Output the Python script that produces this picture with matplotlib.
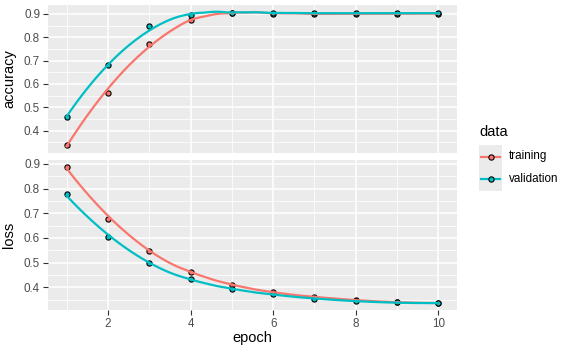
import numpy as np
import matplotlib
matplotlib.use("Agg")
import matplotlib.pyplot as plt
from matplotlib.lines import Line2D
from matplotlib.patches import Rectangle

plt.rcParams['font.family'] = ['Liberation Sans', 'DejaVu Sans']

epoch = np.arange(1, 11)
acc_train = [0.34, 0.562, 0.771, 0.875, 0.903, 0.900, 0.900, 0.901, 0.901, 0.901]
acc_val = [0.459, 0.681, 0.847, 0.896, 0.905, 0.903, 0.903, 0.903, 0.903, 0.903]
loss_train = [0.888, 0.678, 0.546, 0.464, 0.411, 0.381, 0.362, 0.349, 0.341, 0.336]
loss_val = [0.776, 0.604, 0.497, 0.433, 0.394, 0.373, 0.354, 0.345, 0.339, 0.336]

RED = '#F8766D'
CYAN = '#00BFC4'
BG = '#EBEBEB'


# loess (span 0.75, degree 2) like geom_smooth
def loess(x, y, xs, span=0.75):
    x = np.asarray(x, float)
    y = np.asarray(y, float)
    q = int(np.floor(len(x) * span))
    out = []
    for x0 in xs:
        d = np.abs(x - x0)
        h = np.sort(d)[q - 1]
        w = np.clip(1 - (d / h) ** 3, 0, None) ** 3
        A = np.vstack([np.ones_like(x), x - x0, (x - x0) ** 2]).T
        W = np.diag(w)
        beta = np.linalg.solve(A.T @ W @ A, A.T @ W @ y)
        out.append(beta[0])
    return np.array(out)


W, H = 567, 352
fig = plt.figure(figsize=(W / 100, H / 100), dpi=100)


def px_axes(l, t, r, b):
    return fig.add_axes([l / W, 1 - b / H, (r - l) / W, (b - t) / H])


ax1 = px_axes(48, 5, 457, 153)
ax2 = px_axes(48, 160, 457, 310)

xs = np.linspace(1, 10, 80)
panels = [(ax1, acc_train, acc_val, 'accuracy'), (ax2, loss_train, loss_val, 'loss')]
for ax, tr, va, name in panels:
    ax.set_facecolor(BG)
    for s in ax.spines.values():
        s.set_visible(False)
    sm_tr = loess(epoch, tr, xs)
    sm_va = loess(epoch, va, xs)
    for ys, sm, col in [(tr, sm_tr, RED), (va, sm_va, CYAN)]:
        ax.scatter(epoch, ys, s=14, facecolor=col, edgecolor='black', linewidth=0.8, zorder=3)
    ax.plot(xs, sm_tr, color=RED, lw=1.6, zorder=4)
    ax.plot(xs, sm_va, color=CYAN, lw=1.6, zorder=4)
    allv = np.concatenate([tr, va, sm_tr, sm_va])
    lo, hi = allv.min(), allv.max()
    pad = 0.05 * (hi - lo)
    ax.set_ylim(lo - pad, hi + pad)
    ax.set_xlim(0.55, 10.45)
    ax.set_yticks([0.4, 0.5, 0.6, 0.7, 0.8, 0.9])
    ax.set_yticks(np.arange(0.35, 0.95, 0.1), minor=True)
    ax.set_xticks([2, 4, 6, 8, 10])
    ax.set_xticks([1, 3, 5, 7, 9], minor=True)
    ax.grid(which='major', color='white', lw=1.1)
    ax.grid(which='minor', color='white', lw=0.55)
    ax.set_axisbelow(True)
    ax.tick_params(which='major', length=3.7, width=0.8, color='#333333',
                   labelsize=8.4, labelcolor='#4D4D4D', pad=2)
    ax.tick_params(which='minor', length=0)
    ax.set_ylabel(name, fontsize=10.5, labelpad=4)
    ax.yaxis.set_label_coords(-0.078, 0.5)

ax1.tick_params(axis='x', which='major', length=0, labelbottom=False)
ax2.set_xlabel('epoch', fontsize=10.5, labelpad=1)

# legend
fig.text(479 / W, 1 - 132 / H, 'data', fontsize=10.5, va='center', ha='left')
for i, (lab, col) in enumerate([('training', RED), ('validation', CYAN)]):
    cy = 156.5 + 23 * i
    fig.patches.append(Rectangle((479 / W, 1 - (cy + 11.5) / H), 23 / W, 23 / H,
                                 transform=fig.transFigure, facecolor=BG, edgecolor='none'))
    fig.lines.append(Line2D([481 / W, 500 / W], [1 - cy / H] * 2, transform=fig.transFigure,
                            color=col, lw=1.6))
    fig.lines.append(Line2D([490.5 / W], [1 - cy / H], transform=fig.transFigure, marker='o',
                            markersize=3.8, markerfacecolor=col, markeredgecolor='black',
                            markeredgewidth=0.8, linestyle='none'))
    fig.text(509 / W, 1 - cy / H, lab, fontsize=8.4, va='center', ha='left')

fig.savefig('out.png', dpi=100)
